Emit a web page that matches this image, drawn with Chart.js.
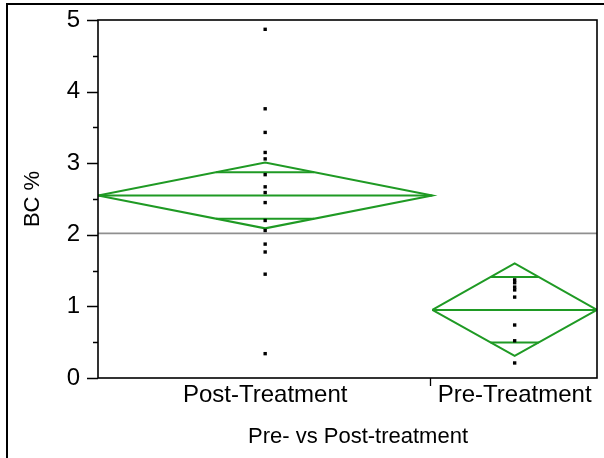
<!DOCTYPE html>
<html><head><meta charset="utf-8">
<script src="https://cdn.jsdelivr.net/npm/chart.js@4/dist/chart.umd.min.js"></script>
<style>html,body{margin:0;padding:0;background:#fff}#wrap{width:604px;height:458px;position:relative}</style>
</head><body><div id="wrap"><canvas id="c" width="604" height="458"></canvas></div>
<script>
// ---- data ----
const categories = ['Post-Treatment', 'Pre-Treatment'];
const postValues = [4.87, 3.76, 3.43, 3.15, 3.06, 2.84, 2.67, 2.59, 2.45, 2.20, 2.06, 1.87, 1.76, 1.45, 0.34];
const preValues = [1.37, 1.33, 1.27, 1.23, 1.13, 0.74, 0.52, 0.21];
const groupMeans = [2.55, 0.95];
const groupUpper = [3.01, 1.60];
const groupLower = [2.09, 0.31];
const grandMean = 2.02;
const yTickValues = [0, 1, 2, 3, 4, 5];
const xTitle = 'Pre- vs Post-treatment';
const yTitle = 'BC %';

// ---- layout ----
const SPLIT = 0.67;               // share of x axis used by first group
const edges = [[0, SPLIT], [SPLIT, 1]];
const centers = edges.map(e => (e[0] + e[1]) / 2);
const GREEN = '#1f9a24';
const FONT = '"Liberation Sans", Arial, sans-serif';

const groupValues = [postValues, preValues];
const datasets = [];

// points (drawn on top)
groupValues.forEach((vals, g) => {
  datasets.push({
    type: 'scatter',
    data: vals.map(v => ({x: centers[g], y: v})),
    pointStyle: 'rect', pointRadius: 2.4, pointBorderWidth: 0,
    backgroundColor: '#000', borderColor: '#000'
  });
});

function seg(points, color, width) {
  return {type: 'line', data: points, borderColor: color, borderWidth: width,
          pointRadius: 0, fill: false, tension: 0};
}

groupValues.forEach((vals, g) => {
  const [x0, x1] = edges[g];
  const xc = centers[g];
  const m = groupMeans[g], u = groupUpper[g], l = groupLower[g];
  datasets.push(seg([{x: x0, y: m}, {x: xc, y: u}, {x: x1, y: m}, {x: xc, y: l}, {x: x0, y: m}], GREEN, 2));
  datasets.push(seg([{x: x0, y: m}, {x: x1, y: m}], GREEN, 2));
  const k = 1 / Math.SQRT2;
  const hw = (x1 - x0) / 2 * (1 - k);
  const mu = m + (u - m) * k, ml = m - (m - l) * k;
  datasets.push(seg([{x: xc - hw, y: mu}, {x: xc + hw, y: mu}], GREEN, 2));
  datasets.push(seg([{x: xc - hw, y: ml}, {x: xc + hw, y: ml}], GREEN, 2));
});

// grand mean
datasets.push(seg([{x: 0, y: grandMean}, {x: 1, y: grandMean}], '#8f8f8f', 1.8));

const framePlugin = {
  id: 'frame',
  afterDraw(chart) {
    const ctx = chart.ctx, a = chart.chartArea;
    const ys = chart.scales.y, xs = chart.scales.x;
    ctx.save();
    ctx.strokeStyle = '#000';
    ctx.lineWidth = 2;
    ctx.beginPath();
    ctx.moveTo(7, 460); ctx.lineTo(7, 4); ctx.lineTo(606, 4);
    ctx.stroke();
    ctx.lineWidth = 1.6;
    ctx.strokeRect(a.left, a.top, a.right - a.left, a.bottom - a.top);
    ctx.lineWidth = 1.3;
    ctx.beginPath();
    for (let v = 0; v <= 5.0001; v += 0.5) {
      const y = Math.round(ys.getPixelForValue(v)) + 0.5;
      const major = Math.abs(v - Math.round(v)) < 1e-6;
      ctx.moveTo(a.left, y); ctx.lineTo(a.left - (major ? 11 : 5), y);
    }
    const xd = Math.round(xs.getPixelForValue(SPLIT)) - 1.5;
    ctx.moveTo(xd, a.bottom); ctx.lineTo(xd, a.bottom + 8);
    ctx.stroke();
    ctx.fillStyle = '#000';
    ctx.font = '22px ' + FONT;
    ctx.textAlign = 'center';
    ctx.textBaseline = 'alphabetic';
    ctx.fillText(xTitle, 358, 443);
    ctx.restore();
  }
};

new Chart(document.getElementById('c'), {
  data: {datasets},
  options: {
    responsive: false, devicePixelRatio: 1, animation: false,
    layout: {padding: {top: 20, right: 7, left: 0, bottom: 0}},
    plugins: {legend: {display: false}, tooltip: {enabled: false}},
    scales: {
      x: {
        type: 'linear', min: 0, max: 1,
        grid: {display: false, drawTicks: false}, border: {display: false},
        afterBuildTicks: s => { s.ticks = centers.map(v => ({value: v})); },
        afterFit: s => { s.height = 80; s.paddingLeft = 0; s.paddingRight = 0; },
        ticks: {
          autoSkip: false, maxRotation: 0, padding: 3, color: '#000',
          font: {family: FONT, size: 24},
          callback: (v, i) => categories[i]
        },
        title: {display: false}
      },
      y: {
        type: 'linear', min: 0, max: 5,
        grid: {display: false, drawTicks: false}, border: {display: false},
        afterBuildTicks: s => { s.ticks = yTickValues.map(v => ({value: v})); },
        afterFit: s => { s.width = 98; s.paddingTop = 0; s.paddingBottom = 0; },
        ticks: {padding: 18, color: '#000', font: {family: FONT, size: 24}},
        title: {display: true, text: yTitle, color: '#000', font: {family: FONT, size: 22},
                padding: {top: 20, bottom: 0}}
      }
    }
  },
  plugins: [framePlugin]
});
</script></body></html>
